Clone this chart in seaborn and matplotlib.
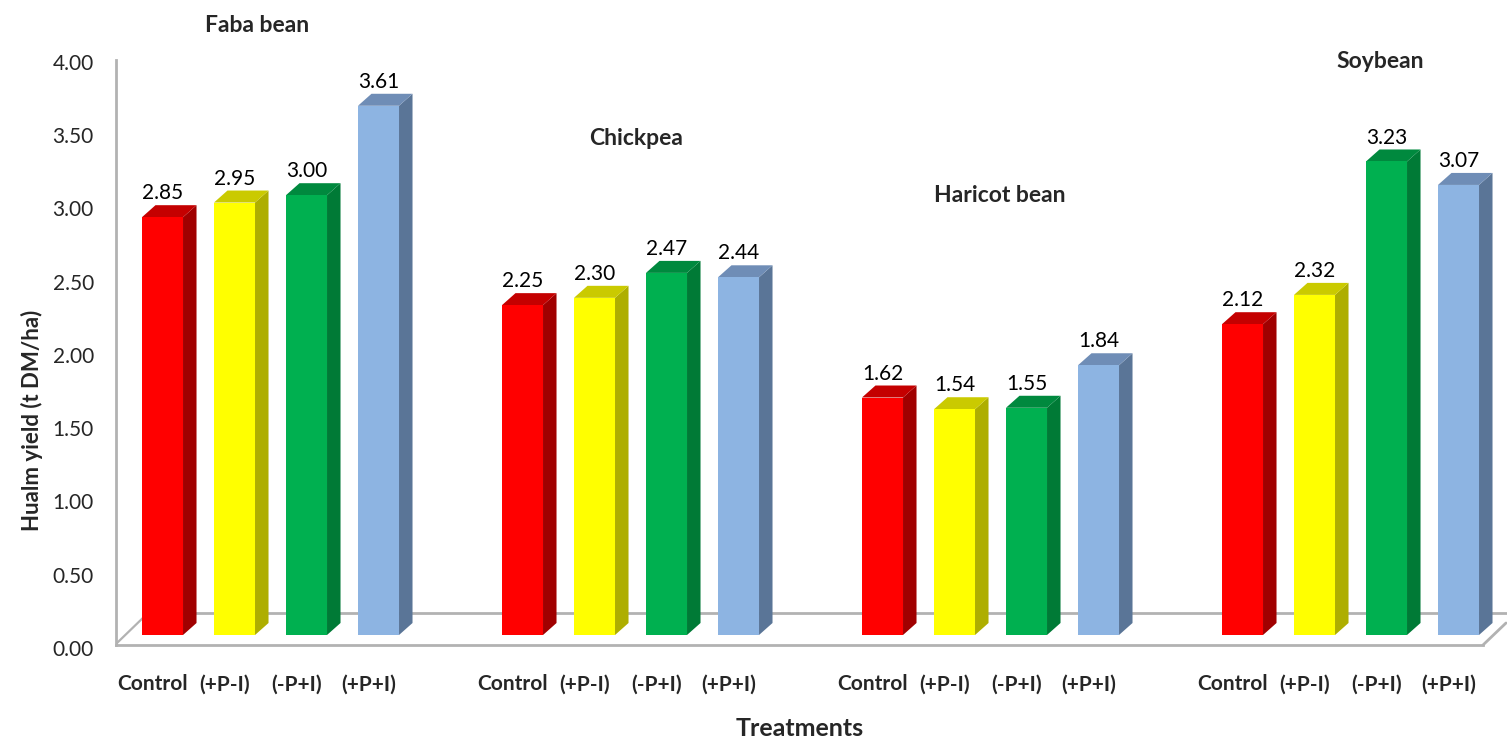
import numpy as np
import pandas as pd
import seaborn as sns
import matplotlib
matplotlib.use("Agg")
import matplotlib.pyplot as plt
from matplotlib.patches import Polygon
from matplotlib.transforms import ScaledTranslation

# ---- data -------------------------------------------------------------
crops = ["Faba bean", "Chickpea", "Haricot bean", "Soybean"]
treatments = ["Control", "(+P-I)", "(-P+I)", "(+P+I)"]
control = [2.85, 2.25, 1.62, 2.12]
plus_p_minus_i = [2.95, 2.30, 1.54, 2.32]
minus_p_plus_i = [3.00, 2.47, 1.55, 3.23]
plus_p_plus_i = [3.61, 2.44, 1.84, 3.07]
y_ticks = [0.0, 0.5, 1.0, 1.5, 2.0, 2.5, 3.0, 3.5, 4.0]

series = [control, plus_p_minus_i, minus_p_plus_i, plus_p_plus_i]
df = pd.DataFrame(
    [(c, t, v) for t, vals in zip(treatments, series) for c, v in zip(crops, vals)],
    columns=["crop", "treatment", "yield"],
)

# ---- styling ----------------------------------------------------------
sns.set_style("white")
plt.rcParams["font.family"] = ["Lato", "DejaVu Sans"]

front = ["#FF0000", "#FFFF00", "#00B050", "#8DB4E2"]
side = ["#A00000", "#AEAE00", "#007A36", "#5A7597"]
top = ["#C40000", "#CACA00", "#00893E", "#6F8DB6"]
edge_grey = "#B2B2B2"

W, H, DPI = 1507, 738, 100
fig = plt.figure(figsize=(W / DPI, H / DPI), dpi=DPI)
ax = fig.add_axes([0, 0, 1, 1])

sns.barplot(
    data=df, x="crop", y="yield", hue="treatment",
    order=crops, hue_order=treatments, palette=front,
    width=0.8, gap=0.43, errorbar=None, legend=False,
    saturation=1, linewidth=0, ax=ax,
)

# axis scale: 360 px per category, ~146.6 px per t DM/ha
x_px, y_px = 360.0, 146.6
x0_px, base_px = 270.5, 635.0
ax.set_xlim(-x0_px / x_px, (W - x0_px) / x_px)
ax.set_ylim(-(H - base_px) / y_px, base_px / y_px)

def px_to_data(px, py):
    return (px - x0_px) / x_px, (base_px - py) / y_px

# pseudo-3D depth of each bar
ddx, ddy = 13.5 / x_px, 12.0 / y_px
for k, cont in enumerate(ax.containers):
    for bar in cont:
        xa, w, h = bar.get_x(), bar.get_width(), bar.get_height()
        xb = xa + w
        ax.add_patch(Polygon([(xb, 0), (xb + ddx, ddy), (xb + ddx, h + ddy), (xb, h)],
                             closed=True, facecolor=side[k], edgecolor="none", zorder=2))
        ax.add_patch(Polygon([(xa, h), (xb, h), (xb + ddx, h + ddy), (xa + ddx, h + ddy)],
                             closed=True, facecolor=top[k], edgecolor="none", zorder=2))
        bar.set_zorder(2.1)
    ax.bar_label(cont, fmt="%.2f", padding=10, fontsize=15, color="black")

# floor of the 3-D plot area
fl, fr = px_to_data(116, 645), px_to_data(1483, 645)
bl, br = px_to_data(148, 613), px_to_data(1507, 613)
rr = px_to_data(1506, 623)
lc = px_to_data(117, 643)
ax.plot([bl[0], br[0]], [bl[1], br[1]], color=edge_grey, lw=2, zorder=0.5, clip_on=False)
ax.plot([lc[0], bl[0]], [lc[1], bl[1]], color=edge_grey, lw=1.6, zorder=0.5)
ax.plot([fr[0], rr[0]], [fr[1], rr[1]], color=edge_grey, lw=2, zorder=0.5)

# left axis = front vertical edge, bottom axis = front floor edge
for s in ["top", "right"]:
    ax.spines[s].set_visible(False)
ax.spines["left"].set_position(("data", fl[0]))
ax.spines["left"].set_bounds(px_to_data(116, 645)[1], px_to_data(116, 60)[1])
ax.spines["bottom"].set_position(("data", fl[1]))
ax.spines["bottom"].set_bounds(fl[0], fr[0])
for s in ["left", "bottom"]:
    ax.spines[s].set_color(edge_grey)
    ax.spines[s].set_linewidth(2)

ax.set_yticks(y_ticks)
ax.set_yticklabels([f"{v:.2f}" for v in y_ticks])
ax.tick_params(axis="y", length=0, pad=16, labelsize=15)
shift_down = ScaledTranslation(0, -13 / DPI, fig.dpi_scale_trans)
for lab in ax.get_yticklabels():
    lab.set_transform(lab.get_transform() + shift_down)

centers = [b.get_x() + b.get_width() / 2 for cont in ax.containers for b in cont]
names = [t for t in treatments for _ in crops]
order = np.argsort(centers)
ax.set_xticks([centers[i] for i in order])
ax.set_xticklabels([names[i] for i in order], fontweight="bold")
ax.tick_params(axis="x", length=0, pad=21, labelsize=15)
shift_left = ScaledTranslation(-10 / DPI, 0, fig.dpi_scale_trans)
for lab in ax.get_xticklabels():
    lab.set_transform(lab.get_transform() + shift_left)

ax.set_xlabel("Treatments", fontsize=18, fontweight="bold")
ax.xaxis.set_label_coords(800 / W, 1 - 728 / H)
ax.xaxis.label.set_verticalalignment("center")
ax.set_ylabel("Hualm yield (t DM/ha)", fontsize=16, fontweight="bold")
ax.yaxis.set_label_coords(32 / W, 1 - 420 / H)
ax.yaxis.label.set_verticalalignment("center")

# crop names above each group
title_pos = {"Faba bean": (257, 32), "Chickpea": (636, 145),
             "Haricot bean": (1000, 202), "Soybean": (1380, 68)}
for crop in crops:
    px, py = title_pos[crop]
    fig.text(px / W, 1 - py / H, crop, ha="center", va="baseline",
             fontsize=16.5, fontweight="bold")

fig.savefig("out.png", dpi=DPI, facecolor="white")
